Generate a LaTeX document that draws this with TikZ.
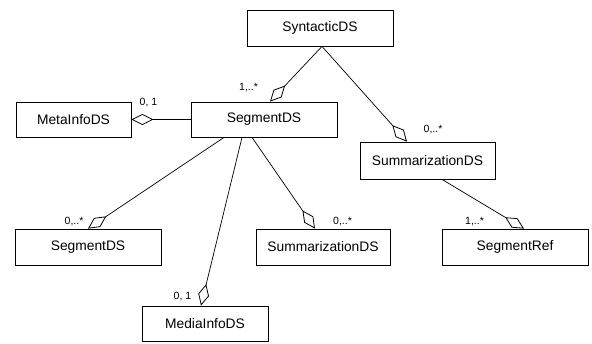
\documentclass[tikz,border=0pt]{standalone}
\usepackage{fontspec}
\setmainfont{Liberation Sans}
\usetikzlibrary{arrows.meta}
\tikzset{
  cls/.style={draw, line width=0.8pt, inner sep=0pt, font=\fontsize{13.8}{16}\selectfont},
  agg/.style={line width=0.7pt, -{Diamond[open,length=22pt,width=11pt,line width=0.8pt]}},
  mult/.style={inner sep=0pt, anchor=base, font=\fontsize{10.5}{12}\selectfont}
}
\begin{document}
\begin{tikzpicture}[x=1pt,y=-1pt]
\useasboundingbox (0,0) rectangle (592,343);
\node[cls, minimum width=146pt, minimum height=36pt] (syn) at (320,28) {SyntacticDS};
\node[cls, minimum width=115pt, minimum height=35pt] (meta) at (73.5,119.5) {MetaInfoDS};
\node[cls, minimum width=146pt, minimum height=35pt] (seg) at (264,119.5) {SegmentDS};
\node[cls, minimum width=135pt, minimum height=37pt] (sumR) at (427.5,160.5) {SummarizationDS};
\node[cls, minimum width=146pt, minimum height=36pt] (segB) at (88,247) {SegmentDS};
\node[cls, minimum width=134pt, minimum height=36pt] (sumB) at (323,247) {SummarizationDS};
\node[cls, minimum width=146pt, minimum height=36pt] (ref) at (515,247) {SegmentRef};
\node[cls, minimum width=126pt, minimum height=35pt] (media) at (205,323.5) {MediaInfoDS};

\draw[agg] ([xshift=2pt]syn.south) -- ([xshift=6pt]seg.north);
\draw[agg] ([xshift=2pt]syn.south) -- ([xshift=-20.5pt]sumR.north);
\draw[agg] (seg.west) -- (meta.east);
\draw[agg] ([xshift=-40pt]seg.south) -- (segB.north);
\draw[agg] ([xshift=-22pt]seg.south) -- ([xshift=-4pt]media.north);
\draw[agg] ([xshift=-12pt]seg.south) -- ([xshift=-8pt]sumB.north);
\draw[agg] ([xshift=14.5pt]sumR.south) -- ([xshift=9pt]ref.north);

\node[mult] (m1) at (248.5,90) {1,..*};
\node[mult] (m2) at (148.5,105) {0, 1};
\node[mult] (m3) at (433,132) {0,..*};
\node[mult] (m4) at (74,224) {0,..*};
\node[mult] (m5) at (342.5,224) {0,..*};
\node[mult] (m6) at (474.5,224) {1,..*};
\node[mult] (m7) at (182.5,299) {0, 1};
\end{tikzpicture}
\end{document}
